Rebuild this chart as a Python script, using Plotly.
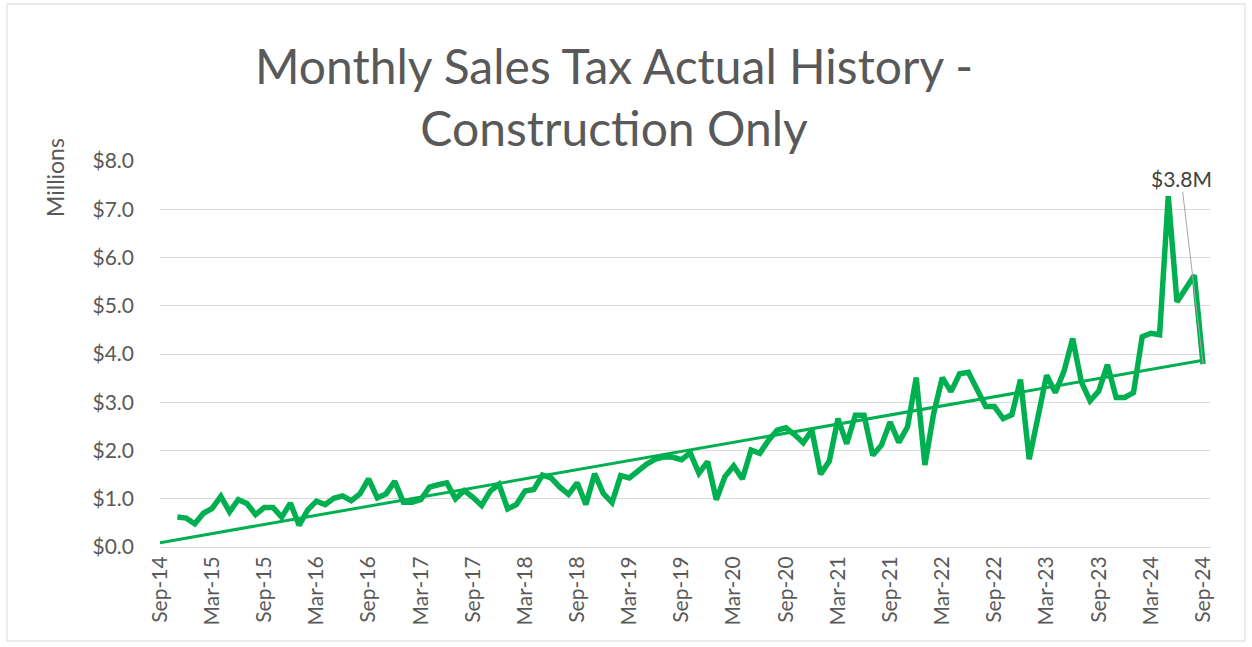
import pandas as pd
import plotly.graph_objects as go

# monthly categories shown on the axis (Sep-14 .. Sep-24)
months = pd.date_range("2014-09-01", "2024-09-01", freq="MS").strftime("%b-%y").tolist()

# actual sales tax, construction only ($ millions), Nov-14 .. Sep-24
sales_months = months[2:]
sales_millions = [
    0.62, 0.60, 0.48, 0.70, 0.80, 1.05, 0.73, 0.98, 0.90, 0.67,
    0.82, 0.82, 0.62, 0.91, 0.45, 0.77, 0.95, 0.88, 1.01, 1.06,
    0.96, 1.10, 1.41, 1.02, 1.10, 1.36, 0.93, 0.93, 0.98, 1.24,
    1.29, 1.33, 1.00, 1.17, 1.03, 0.86, 1.16, 1.30, 0.79, 0.88,
    1.16, 1.19, 1.49, 1.43, 1.24, 1.09, 1.33, 0.88, 1.52, 1.11,
    0.92, 1.48, 1.43, 1.59, 1.72, 1.82, 1.87, 1.86, 1.81, 1.95,
    1.53, 1.77, 0.98, 1.46, 1.68, 1.41, 2.01, 1.94, 2.21, 2.42,
    2.47, 2.33, 2.16, 2.42, 1.51, 1.78, 2.66, 2.14, 2.73, 2.73,
    1.90, 2.11, 2.59, 2.17, 2.49, 3.51, 1.70, 2.76, 3.51, 3.22,
    3.59, 3.62, 3.25, 2.91, 2.91, 2.66, 2.74, 3.47, 1.82, 2.71,
    3.56, 3.20, 3.64, 4.32, 3.42, 3.03, 3.23, 3.78, 3.10, 3.10,
    3.20, 4.36, 4.43, 4.40, 7.27, 5.08, 5.35, 5.63, 3.79,
]

# linear trend line end points
trend_months = ["Sep-14", "Sep-24"]
trend_millions = [0.09, 3.87]

tick_labels = [
    "Sep-14", "Mar-15", "Sep-15", "Mar-16", "Sep-16", "Mar-17", "Sep-17",
    "Mar-18", "Sep-18", "Mar-19", "Sep-19", "Mar-20", "Sep-20", "Mar-21",
    "Sep-21", "Mar-22", "Sep-22", "Mar-23", "Sep-23", "Mar-24", "Sep-24",
]
y_ticks = [0, 1, 2, 3, 4, 5, 6, 7, 8]

GREEN = "#00B050"
TEXT = "#595959"
GRID = "#D9D9D9"
FONT = "Lato, 'Open Sans', sans-serif"

W, H = 1252, 647
L, R, T, B = 160, 42, 161, 100
PW, PH = W - L - R, H - T - B


def px_x(x):
    """pixel column -> paper x"""
    return (x - L) / PW


def px_y(y):
    """pixel row (from top) -> paper y"""
    return (H - B - y) / PH


fig = go.Figure()
fig.add_trace(
    go.Scatter(
        x=sales_months,
        y=sales_millions,
        mode="lines",
        line=dict(color=GREEN, width=5.5),
        name="Construction",
    )
)
fig.add_trace(
    go.Scatter(
        x=trend_months,
        y=trend_millions,
        mode="lines",
        line=dict(color=GREEN, width=3),
        name="Trend",
    )
)

fig.update_layout(
    width=W,
    height=H,
    margin=dict(l=L, r=R, t=T, b=B),
    paper_bgcolor="white",
    plot_bgcolor="white",
    showlegend=False,
    font=dict(family=FONT, color=TEXT),
)
fig.update_xaxes(
    type="category",
    categoryorder="array",
    categoryarray=months,
    range=[0, 120.8],
    tickmode="array",
    tickvals=tick_labels,
    ticktext=tick_labels,
    tickangle=-90,
    tickfont=dict(size=21, color=TEXT),
    showgrid=False,
    showline=True,
    linecolor=GRID,
    linewidth=1,
    ticks="",
    zeroline=False,
)
fig.update_yaxes(
    range=[0, 8],
    tickvals=y_ticks,
    ticktext=[f"${v:.1f}" for v in y_ticks],
    tickfont=dict(size=21, color=TEXT),
    showgrid=True,
    gridcolor=GRID,
    gridwidth=1,
    zeroline=False,
    ticks="",
    ticklabelstandoff=25,
)

# chart title
fig.add_annotation(
    text="Monthly Sales Tax Actual History -<br>Construction Only",
    xref="paper", yref="paper",
    x=px_x(614), y=px_y(96),
    xanchor="center", yanchor="middle",
    showarrow=False,
    font=dict(size=48, color=TEXT),
)

# display-units label
fig.add_annotation(
    text="Millions",
    xref="paper", yref="paper",
    x=px_x(55), y=px_y(178),
    xanchor="center", yanchor="middle",
    showarrow=False, textangle=-90,
    font=dict(size=23, color=TEXT),
)

# data label for the last month
fig.add_annotation(
    x=sales_months[-1], y=sales_millions[-1],
    text=f"${sales_millions[-1]:.1f}M",
    showarrow=True, arrowhead=0, arrowwidth=1, arrowcolor="#A6A6A6",
    ax=-22, ay=-186, standoff=0,
    font=dict(size=21, color="#404040"),
)

# chart area border
fig.add_shape(
    type="rect", xref="paper", yref="paper",
    x0=px_x(7), x1=px_x(1245),
    y0=px_y(641), y1=px_y(4),
    line=dict(color=GRID, width=1),
)

fig.write_html(
    "out.html",
    config={"displayModeBar": False},
    post_script="document.body.style.margin='0';",
)
